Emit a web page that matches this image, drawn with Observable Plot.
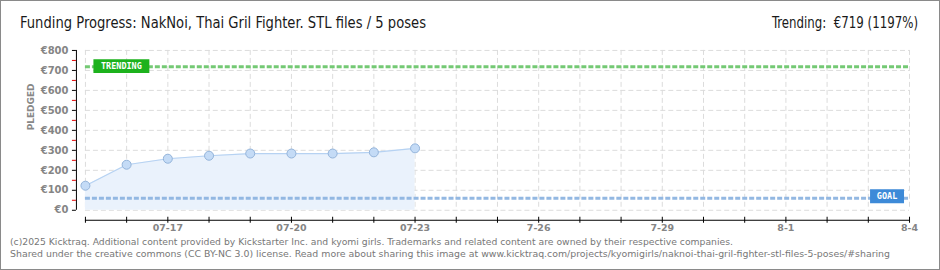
<!DOCTYPE html>
<html><head><meta charset="utf-8">
<script src="https://cdn.jsdelivr.net/npm/d3@7"></script>
<script src="https://cdn.jsdelivr.net/npm/@observablehq/plot@0.6"></script>
<style>
html,body{margin:0;padding:0;background:#fff;}
#wrap{position:relative;width:940px;height:270px;box-sizing:border-box;border:1px solid #8a8a8a;overflow:hidden;}
#chart{position:absolute;left:-1px;top:-1px;}
.t{position:absolute;white-space:pre;transform-origin:0 0;}
#title{left:19px;top:13px;font-family:"DejaVu Sans Condensed","DejaVu Sans",sans-serif;font-size:15.5px;color:#1a1a1a;}
#trend{left:771px;top:13px;font-family:"DejaVu Sans Condensed","DejaVu Sans",sans-serif;font-size:15.5px;color:#1a1a1a;}
.foot{left:9px;font-family:"DejaVu Sans",Verdana,sans-serif;font-size:9px;color:#777;}
</style></head>
<body>
<div id="wrap">
<div id="chart"></div>
<div class="t" id="title"></div>
<div class="t" id="trend"></div>
<div class="t foot" id="f1" style="top:236px"></div>
<div class="t foot" id="f2" style="top:248px"></div>
</div>
<script>
const titleText = "Funding Progress: NakNoi, Thai Gril Fighter. STL files / 5 poses";
const trendText = "Trending:  €719 (1197%)";
const footer1 = "(c)2025 Kicktraq. Additional content provided by Kickstarter Inc. and kyomi girls. Trademarks and related content are owned by their respective companies.";
const footer2 = "Shared under the creative commons (CC BY-NC 3.0) license. Read more about sharing this image at www.kicktraq.com/projects/kyomigirls/naknoi-thai-gril-fighter-stl-files-5-poses/#sharing";

const dates = ["2025-07-15","2025-07-16","2025-07-17","2025-07-18","2025-07-19","2025-07-20","2025-07-21","2025-07-22","2025-07-23"];
const pledged = [123, 228, 258, 273, 284, 284, 284, 290, 310];
const xStart = "2025-07-15";
const xEnd = "2025-08-04";
const goal = 60;
const trending = 719;
const yMajor = [0,100,200,300,400,500,600,700,800];
const yMinor = [50,150,250,350,450,550,650,750];
const xLabelDates = ["2025-07-17","2025-07-20","2025-07-23","2025-07-26","2025-07-29","2025-08-01","2025-08-04"];
const xLabels = ["07-17","07-20","07-23","7-26","7-29","8-1","8-4"];

// text layout: fit each overlay text to the width it has in the reference
const textFits = [["title", titleText, 406], ["trend", trendText, 146], ["f1", footer1, 723], ["f2", footer2, 880]];
for (const [id, txt, w] of textFits) {
  const el = document.getElementById(id);
  el.textContent = txt;
  const cw = el.getBoundingClientRect().width;
  if (cw > 0) el.style.transform = `scaleX(${w / cw})`;
}

const P = d3.utcParse("%Y-%m-%d");
const data = dates.map((d,i)=>({date:P(d), value:pledged[i]}));
const x0 = P(xStart), x1 = P(xEnd);
const days = d3.utcDay.range(x0, d3.utcDay.offset(x1,1));
const labelMap = new Map(xLabelDates.map((d,i)=>[+P(d), xLabels[i]]));

function boxSymbol(w,h){ return {draw(ctx){ ctx.rect(-w/2,-h/2,w,h); }}; }

const px = "DejaVu Sans, Verdana, sans-serif";
const chart = Plot.plot({
  width: 940, height: 270,
  marginLeft: 85, marginRight: 30, marginTop: 50, marginBottom: 60,
  style: {fontFamily: px, background: "transparent"},
  x: {type: "utc", domain: [x0, x1], axis: null},
  y: {domain: [0, 800], axis: null},
  marks: [
    Plot.gridX(days, {stroke: "#dcdcdc", strokeOpacity: 1, strokeDasharray: "5,3"}),
    Plot.gridY(yMajor, {stroke: "#dcdcdc", strokeOpacity: 1, strokeDasharray: "5,3"}),
    Plot.areaY(data, {x: "date", y: "value", fill: "#eaf2fc", fillOpacity: 1}),
    Plot.ruleY([goal], {x1: () => x0, x2: () => x1, stroke: "#93b8e2", strokeWidth: 3, strokeDasharray: "5,2"}),
    Plot.ruleY([trending], {x1: () => x0, x2: () => x1, stroke: "#74c974", strokeWidth: 3, strokeDasharray: "5,2"}),
    Plot.lineY(data, {x: "date", y: "value", stroke: "#b6d2f2", strokeWidth: 1.2}),
    Plot.dot(data, {x: "date", y: "value", r: 4.5, fill: "#c4dbf6", stroke: "#93b3d9", strokeWidth: 1}),
    // axis lines
    Plot.ruleX([x0], {y1: 0, y2: 800, dx: -9, stroke: "#000", strokeWidth: 1}),
    Plot.ruleY([0], {x1: () => x0, x2: () => x1, dy: 10, stroke: "#000", strokeWidth: 1}),
    Plot.axisY(yMinor, {label: null, tickSize: 4, dx: -9, stroke: "#e00000", tickFormat: () => ""}),
    Plot.axisY(yMajor, {label: null, tickSize: 4, dx: -9, tickPadding: 4, stroke: "#000", tickFormat: d => "€" + d, fill: "#858585", fontSize: 10, fontWeight: "bold"}),
    Plot.axisX(days, {label: null, tickSize: 6, dy: 7, stroke: "#000", tickFormat: () => ""}),
    Plot.axisX(xLabelDates.map(P), {label: null, tickSize: 0, dy: 7, tickPadding: 7, tickFormat: d => labelMap.get(+d), fill: "#858585", fontSize: 9.5, fontWeight: "bold"}),
    Plot.text(["PLEDGED"], {frameAnchor: "left", rotate: -90, dx: -54, fill: "#888", fontSize: 9, fontWeight: "bold", letterSpacing: 1.5}),
    // labels
    Plot.dot([trending], {x: () => x0, y: d => d, dx: 36, dy: -0.5, symbol: boxSymbol(56, 14), r: 5, fill: "#1db21d", stroke: "none"}),
    Plot.text([trending], {x: () => x0, y: d => d, dx: 36, dy: -0.5, text: () => "TRENDING", fill: "#fff", fontSize: 8.5, fontWeight: "bold", fontFamily: "DejaVu Sans Mono, monospace"}),
    Plot.dot([goal], {x: () => x1, y: d => d, dx: -22.5, dy: -2, symbol: boxSymbol(34, 14), r: 5, fill: "#3d8ad8", stroke: "none"}),
    Plot.text([goal], {x: () => x1, y: d => d, dx: -22.5, dy: -2, text: () => "GOAL", fill: "#fff", fontSize: 8.5, fontWeight: "bold", fontFamily: "DejaVu Sans Mono, monospace"})
  ]
});
document.getElementById("chart").appendChild(chart);
</script>
</body></html>
